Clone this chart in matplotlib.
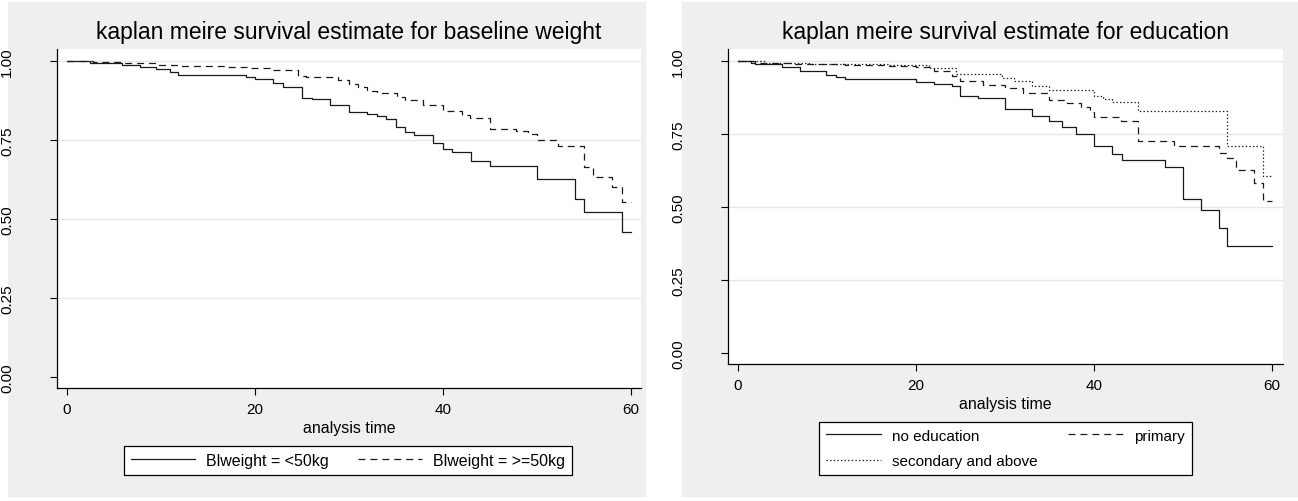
import matplotlib
matplotlib.use("Agg")
import matplotlib.pyplot as plt
from matplotlib.patches import Rectangle

plt.rcParams['font.family'] = ['Liberation Sans', 'DejaVu Sans']
plt.rcParams['lines.scale_dashes'] = False

# Kaplan-Meier estimates (time, survival)
wt_lt50_t = [0, 2.5, 5.9, 7.8, 9.5, 11.0, 11.8, 19.0, 20.0, 21.9, 23.0, 25.0, 26.1, 28.0, 30.0,
             31.9, 33.0, 33.9, 35.0, 36.0, 36.9, 38.9, 40.0, 41.0, 43.0, 45.0, 50.0, 54.0, 55.0, 59.0, 60]
wt_lt50_s = [1.0, 0.994, 0.987, 0.981, 0.975, 0.965, 0.956, 0.949, 0.943, 0.930, 0.918, 0.883, 0.880, 0.861, 0.839,
             0.832, 0.826, 0.816, 0.791, 0.775, 0.766, 0.741, 0.722, 0.712, 0.684, 0.668, 0.627, 0.563, 0.522, 0.459, 0.459]

wt_ge50_t = [0, 2.8, 5.9, 9.6, 12.0, 17.0, 19.5, 21.8, 24.6, 25.4, 28.8, 30.0, 31.0, 31.9, 33.0,
             35.1, 36.0, 37.9, 40.0, 42.0, 42.9, 45.0, 47.8, 49.0, 50.0, 52.2, 55.0, 56.0, 58.0, 59.0, 60]
wt_ge50_s = [1.0, 0.997, 0.994, 0.987, 0.984, 0.981, 0.978, 0.972, 0.953, 0.949, 0.940, 0.927, 0.918, 0.905, 0.899,
             0.886, 0.877, 0.861, 0.842, 0.829, 0.820, 0.785, 0.778, 0.769, 0.750, 0.731, 0.665, 0.633, 0.600, 0.554, 0.554]

edu_none_t = [0, 1.9, 5.0, 7.0, 9.9, 11.0, 12.0, 20.0, 22.0, 24.0, 25.0, 27.0, 30.0, 33.0, 35.0,
              36.4, 38.0, 40.0, 42.0, 43.1, 48.0, 50.0, 52.0, 54.0, 55.0, 60]
edu_none_s = [1.0, 0.990, 0.979, 0.966, 0.952, 0.945, 0.938, 0.928, 0.921, 0.914, 0.880, 0.873, 0.836, 0.812, 0.795,
              0.774, 0.750, 0.709, 0.682, 0.661, 0.637, 0.527, 0.490, 0.428, 0.366, 0.366]

edu_prim_t = [0, 1.5, 6.0, 12.0, 17.0, 20.0, 22.0, 24.0, 25.0, 27.5, 30.0, 32.0, 35.0, 37.0, 38.5,
              39.5, 40.0, 43.0, 45.0, 49.0, 54.0, 55.0, 56.0, 58.0, 59.0, 60]
edu_prim_s = [1.0, 0.993, 0.990, 0.986, 0.983, 0.979, 0.966, 0.949, 0.931, 0.918, 0.908, 0.890, 0.866, 0.856, 0.842,
              0.825, 0.808, 0.795, 0.726, 0.709, 0.685, 0.668, 0.627, 0.582, 0.520, 0.520]

edu_sec_t = [0, 3.0, 8.0, 17.0, 21.5, 24.5, 29.7, 31.0, 33.0, 35.0, 40.0, 41.0, 42.0, 45.0, 55.0, 59.0, 60]
edu_sec_s = [1.0, 0.993, 0.990, 0.986, 0.976, 0.955, 0.942, 0.932, 0.914, 0.901, 0.880, 0.870, 0.860, 0.829,
             0.709, 0.606, 0.606]

y_ticks = [0, 0.25, 0.5, 0.75, 1.0]
y_ticklabels = ["0.00", "0.25", "0.50", "0.75", "1.00"]
x_ticks = [0, 20, 40, 60]

W, H = 1298, 502
BG = '#efefef'
LINE = '#1a1a1a'
SOLID = '-'
DASH = (0, (5, 3.6))
DOT = (0, (1, 1.6))

fig = plt.figure(figsize=(W / 100, H / 100), dpi=100, facecolor='white')


def fx(px):
    return px / W


def fy(py):
    return 1 - py / H


def panel(x0, x1, ytop, ybot, xlim, ylim, title, xlabel_y, curves):
    ax = fig.add_axes([fx(x0), fy(ybot), fx(x1 - x0), (ybot - ytop) / H])
    ax.set_facecolor('white')
    for t, s, ls in curves:
        ax.step(t, s, where='post', color=LINE, lw=0.9, linestyle=ls)
    ax.set_xlim(*xlim)
    ax.set_ylim(*ylim)
    ax.set_xticks(x_ticks)
    ax.set_yticks(y_ticks)
    ax.set_yticklabels(y_ticklabels, rotation=90, va='center')
    for sp in ['top', 'right']:
        ax.spines[sp].set_visible(False)
    for sp in ['left', 'bottom']:
        ax.spines[sp].set_linewidth(0.9)
        ax.spines[sp].set_color('black')
    ax.tick_params(axis='both', direction='out', length=5, width=0.8, labelsize=11)
    ax.tick_params(axis='y', pad=26)
    ax.tick_params(axis='x', pad=5)
    ax.yaxis.grid(True, color='#e6e6e6', lw=1.0)
    ax.set_axisbelow(True)
    ax.yaxis.get_gridlines()[0].set_visible(False)
    ax.set_xlabel("analysis time", fontsize=11.5, va='center')
    ax.xaxis.set_label_coords(0.5, -(xlabel_y - ybot) / (ybot - ytop))
    fig.text(fx((x0 + x1) / 2), fy(33), title, ha='center', va='center', fontsize=16.5)
    return ax


# grey graph regions
fig.patches.append(Rectangle((fx(8), fy(497)), fx(645 - 8), (497 - 3) / H,
                             transform=fig.transFigure, color=BG, zorder=-10))
fig.patches.append(Rectangle((fx(682), fy(497)), fx(1298 - 682), (497 - 3) / H,
                             transform=fig.transFigure, color=BG, zorder=-10))

ax1 = panel(57, 641, 50, 389, (-1.06, 61.06), (-0.035, 1.038),
            "kaplan meire survival estimate for baseline weight", 429,
            [(wt_lt50_t, wt_lt50_s, SOLID), (wt_ge50_t, wt_ge50_s, DASH)])
ax2 = panel(728, 1283, 50, 365, (-1.12, 61.24), (-0.038, 1.041),
            "kaplan meire survival estimate for education", 404,
            [(edu_none_t, edu_none_s, SOLID), (edu_prim_t, edu_prim_s, DASH),
             (edu_sec_t, edu_sec_s, DOT)])

l1 = ax1.get_lines()
leg1 = fig.legend([l1[0], l1[1]], ["Blweight = <50kg", "Blweight = >=50kg"],
                  loc='center', bbox_to_anchor=(fx(348), fy(461.5)), ncol=2,
                  fontsize=11.5, handlelength=4, handletextpad=0.7, columnspacing=1.8,
                  fancybox=False, edgecolor='black', framealpha=1, borderpad=0.45)
leg1.get_frame().set_linewidth(0.9)

l2 = ax2.get_lines()
leg2 = fig.legend([l2[0], l2[2], l2[1]], ["no education", "secondary and above", "primary"],
                  loc='center', bbox_to_anchor=(fx(1005.5), fy(449.5)), ncol=2,
                  fontsize=11, handlelength=3.6, handletextpad=0.7, columnspacing=2.0,
                  labelspacing=0.75, fancybox=False, edgecolor='black', framealpha=1,
                  borderpad=0.45)
leg2.get_frame().set_linewidth(0.9)

fig.savefig("out.png", dpi=100, facecolor='white')
